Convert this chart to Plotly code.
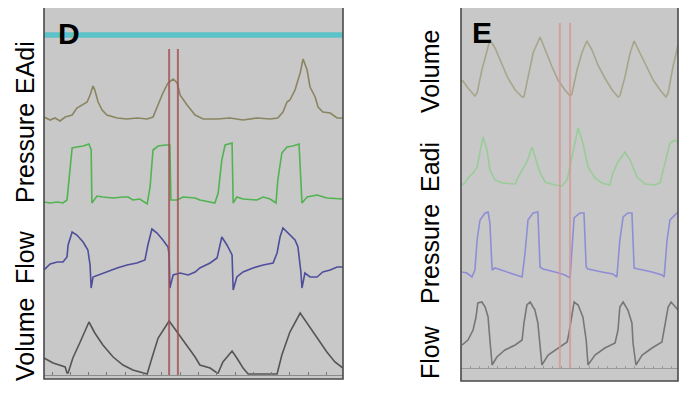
import plotly.graph_objects as go

# ---------------- Panel D data (time in s) ----------------
d_eadi_t = [-0.22, -0.05, 0.08, 0.22, 0.36, 0.55, 0.68, 0.82, 0.96, 1.04, 1.12, 1.17, 1.26, 1.37, 1.50, 1.78, 2.05, 2.32, 2.60, 2.76, 2.90, 3.03, 3.17, 3.31, 3.42, 3.50, 3.69, 3.91, 4.13, 4.51, 4.86, 5.22, 5.60, 5.96, 6.17, 6.31, 6.42, 6.50, 6.64, 6.78, 6.86, 6.97, 7.05, 7.19, 7.27, 7.40, 7.60, 7.79, 7.95]
d_eadi_v = [1.6, 1.0, 1.4, 0.8, 1.6, 2.0, 3.4, 4.0, 4.6, 6.0, 7.8, 7.0, 4.6, 3.0, 2.0, 1.4, 1.2, 1.4, 1.2, 1.6, 4.0, 6.4, 8.4, 9.2, 8.4, 6.0, 4.0, 2.0, 1.2, 1.2, 1.4, 1.0, 1.4, 1.2, 1.4, 2.6, 4.6, 5.0, 7.0, 10.4, 13.2, 11.0, 7.6, 5.6, 3.6, 2.6, 2.4, 1.4, 1.4]

d_paw_t = [-0.22, -0.05, 0.14, 0.30, 0.41, 0.49, 0.55, 0.68, 0.85, 1.01, 1.07, 1.09, 1.23, 1.39, 1.67, 1.94, 2.08, 2.21, 2.40, 2.60, 2.68, 2.76, 2.90, 3.09, 3.22, 3.25, 3.42, 3.58, 3.91, 4.04, 4.32, 4.45, 4.54, 4.64, 4.73, 4.92, 4.95, 5.05, 5.22, 5.60, 5.77, 5.96, 6.12, 6.17, 6.28, 6.42, 6.58, 6.75, 6.83, 6.97, 7.24, 7.51, 7.95]
d_paw_v = [2.0, 1.75, 2.0, 1.75, 2.5, 9.25, 15.5, 15.75, 16.0, 16.5, 15.0, 1.75, 3.5, 3.25, 3.0, 3.25, 3.25, 2.5, 2.75, 1.5, 5.75, 15.0, 16.0, 16.25, 16.25, 2.5, 2.5, 3.25, 3.0, 2.5, 2.0, 1.75, 4.25, 12.5, 16.25, 16.75, 1.75, 3.25, 2.75, 2.5, 3.25, 2.75, 1.75, 7.5, 14.25, 15.75, 16.0, 16.5, 1.75, 3.25, 3.75, 3.0, 2.75]

d_flow_t = [-0.22, -0.05, 0.14, 0.30, 0.41, 0.44, 0.55, 0.68, 0.85, 0.98, 1.04, 1.07, 1.12, 1.26, 1.50, 1.78, 2.05, 2.32, 2.54, 2.62, 2.73, 2.87, 3.03, 3.17, 3.20, 3.22, 3.31, 3.50, 3.72, 3.91, 4.04, 4.32, 4.51, 4.59, 4.64, 4.78, 4.92, 4.95, 5.05, 5.22, 5.49, 5.77, 6.04, 6.15, 6.23, 6.31, 6.45, 6.64, 6.72, 6.80, 6.83, 6.91, 7.05, 7.24, 7.40, 7.60, 7.79, 7.95]
d_flow_v = [0.10, 0.22, 0.26, 0.26, 0.36, 0.60, 0.86, 0.80, 0.66, 0.50, 0.20, -0.26, -0.04, 0.0, 0.06, 0.14, 0.20, 0.24, 0.30, 0.60, 0.92, 0.84, 0.70, 0.56, 0.40, -0.26, 0.0, 0.04, 0.0, 0.06, 0.14, 0.24, 0.34, 0.60, 0.76, 0.60, 0.40, -0.30, -0.04, 0.06, 0.14, 0.20, 0.24, 0.44, 0.76, 0.94, 0.84, 0.70, 0.56, 0.06, -0.26, 0.04, -0.04, -0.04, 0.06, 0.10, 0.16, 0.16]

d_vol_t = [-0.22, 0.03, 0.36, 0.41, 0.44, 0.57, 0.77, 1.01, 1.17, 1.39, 1.67, 1.94, 2.21, 2.49, 2.60, 2.73, 2.90, 3.20, 3.42, 3.69, 3.91, 4.04, 4.32, 4.51, 4.54, 4.67, 4.92, 5.05, 5.22, 5.36, 6.15, 6.28, 6.50, 6.78, 6.97, 7.24, 7.51, 7.73, 7.95]
d_vol_v = [85, 60, 40, 10, 10, 85, 165, 265, 210, 150, 90, 50, 25, 10, 5, 85, 185, 270, 215, 150, 90, 50, 35, 10, 10, 65, 120, 85, 35, 5, 5, 100, 215, 310, 260, 185, 115, 65, 35]

d_cursor_t = [3.20, 3.44]
d_ref_level = 0.5

# ---------------- Panel E data ----------------
e_vol_t = [0.03, 0.19, 0.38, 0.44, 0.57, 0.71, 0.79, 0.93, 1.12, 1.28, 1.48, 1.67, 1.72, 1.83, 1.97, 2.16, 2.30, 2.49, 2.65, 2.84, 2.98, 3.03, 3.17, 3.31, 3.44, 3.58, 3.74, 3.93, 4.13, 4.29, 4.34, 4.48, 4.62, 4.73, 4.89, 5.08, 5.25, 5.44, 5.60, 5.66, 5.79, 5.93]
e_vol_v = [100, 60, 20, 35, 150, 250, 300, 260, 175, 110, 50, 15, 15, 115, 235, 315, 250, 165, 100, 50, 20, 30, 150, 240, 295, 250, 175, 110, 50, 15, 20, 115, 235, 295, 235, 160, 100, 50, 15, 35, 165, 275]

e_eadi_t = [0.03, 0.11, 0.19, 0.33, 0.44, 0.52, 0.60, 0.71, 0.79, 0.93, 1.12, 1.48, 1.56, 1.67, 1.80, 1.94, 2.02, 2.16, 2.30, 2.57, 2.76, 2.90, 3.03, 3.20, 3.33, 3.47, 3.66, 3.85, 4.07, 4.15, 4.29, 4.48, 4.62, 4.81, 5.03, 5.30, 5.44, 5.57, 5.71, 5.85, 5.93]
e_eadi_v = [1.0, 1.4, 2.4, 3.4, 4.6, 7.4, 10.6, 8.0, 4.0, 2.0, 1.4, 1.2, 2.6, 4.0, 5.6, 8.6, 6.6, 3.4, 1.6, 1.0, 0.8, 2.0, 6.6, 12.4, 9.4, 4.6, 2.4, 1.4, 1.0, 3.4, 5.6, 7.6, 6.0, 2.6, 1.2, 1.0, 1.4, 5.4, 9.4, 10.0, 9.4]

e_paw_t = [0.03, 0.16, 0.30, 0.38, 0.44, 0.52, 0.66, 0.74, 0.79, 0.85, 0.93, 1.20, 1.56, 1.67, 1.75, 1.83, 1.97, 2.10, 2.16, 2.24, 2.57, 2.84, 2.98, 3.03, 3.09, 3.25, 3.36, 3.42, 3.47, 3.85, 4.15, 4.26, 4.34, 4.43, 4.56, 4.67, 4.73, 4.84, 5.22, 5.49, 5.55, 5.63, 5.71, 5.90, 5.93]
e_paw_v = [2.0, 1.75, 0.75, 2.5, 10.0, 15.0, 16.75, 17.0, 14.25, 2.5, 3.0, 2.25, 1.25, 0.75, 6.75, 15.0, 16.75, 17.0, 3.25, 2.75, 2.0, 1.25, 0.5, 7.5, 15.5, 16.75, 16.75, 3.25, 2.75, 2.0, 1.5, 0.75, 10.0, 15.75, 16.75, 16.75, 3.0, 2.75, 2.0, 1.25, 0.75, 10.0, 15.0, 16.75, 16.75]

e_flow_t = [0.03, 0.19, 0.33, 0.41, 0.46, 0.57, 0.66, 0.74, 0.79, 0.85, 0.98, 1.20, 1.48, 1.67, 1.72, 1.80, 1.89, 2.02, 2.10, 2.16, 2.21, 2.38, 2.65, 2.90, 2.95, 3.03, 3.09, 3.20, 3.33, 3.42, 3.47, 3.66, 3.93, 4.21, 4.29, 4.34, 4.43, 4.56, 4.67, 4.70, 4.78, 4.95, 5.22, 5.49, 5.55, 5.66, 5.74, 5.87, 5.93]
e_flow_v = [0.23, 0.28, 0.38, 0.51, 0.65, 0.66, 0.61, 0.51, 0.28, 0.03, 0.11, 0.18, 0.23, 0.28, 0.45, 0.63, 0.66, 0.58, 0.45, 0.25, 0.03, 0.13, 0.20, 0.26, 0.35, 0.55, 0.66, 0.63, 0.51, 0.28, 0.03, 0.13, 0.20, 0.25, 0.38, 0.61, 0.66, 0.58, 0.45, 0.25, 0.03, 0.13, 0.20, 0.26, 0.38, 0.61, 0.66, 0.61, 0.58]

e_cursor_t = [2.70, 2.98]

d_labels = ["EAdi", "Pressure", "Flow", "Volume"]
e_labels = ["Volume", "Eadi", "Pressure", "Flow"]
panel_letters = ["D", "E"]

# ---------------- figure ----------------
# page has an 8px body margin, so the figure is drawn 8px smaller and offset
OFF = 8
W, H = 692 - OFF, 398 - OFF
def px(x):
    return (x - OFF) / W
def py(y):
    return 1 - (y - OFF) / H

fig = go.Figure()

def add(t, v, xa, ya, color, width=1.6):
    fig.add_trace(go.Scatter(x=t, y=v, xaxis=xa, yaxis=ya, mode="lines",
                             line=dict(color=color, width=width), hoverinfo="skip",
                             showlegend=False))

# Panel D
add([-0.22, 7.95], [d_ref_level, d_ref_level], "x", "y5", "#5cc2c9", 5.5)
add(d_eadi_t, d_eadi_v, "x", "y", "#8a8560")
add(d_paw_t, d_paw_v, "x", "y2", "#52b352")
add(d_flow_t, d_flow_v, "x", "y3", "#4e4e9c")
add(d_vol_t, d_vol_v, "x", "y4", "#555555")
# Panel E
add(e_vol_t, e_vol_v, "x2", "y6", "#a7a58c")
add(e_eadi_t, e_eadi_v, "x2", "y7", "#9acc98")
add(e_paw_t, e_paw_v, "x2", "y8", "#8e8ed6")
add(e_flow_t, e_flow_v, "x2", "y9", "#777777")

def yax(top, bottom, rng):
    return dict(domain=[py(bottom), py(top)], range=rng, visible=False, fixedrange=True)

layout = dict(
    width=W, height=H, margin=dict(l=0, r=0, t=0, b=0),
    paper_bgcolor="white", plot_bgcolor="rgba(0,0,0,0)",
    showlegend=False,
    xaxis=dict(domain=[px(44), px(343)], range=[-0.2186, 7.9508], anchor="y4",
               showline=True, linecolor="#8a8a8a", linewidth=1.2,
               ticks="inside", ticklen=3, tickcolor="#777", tick0=0, dtick=0.5,
               showticklabels=False, showgrid=False, zeroline=False),
    xaxis2=dict(domain=[px(461), px(678)], range=[0, 5.929], anchor="y9",
                showline=True, linecolor="#9a9a9a", linewidth=1.2,
                ticks="inside", ticklen=2, tickcolor="#999", tick0=0, dtick=0.25,
                showticklabels=False, showgrid=False, zeroline=False),
    yaxis=yax(45, 125, [0, 16]),
    yaxis2=yax(135, 210, [0, 18.75]),
    yaxis3=yax(215, 300, [-0.5, 1.2]),
    yaxis4=yax(305, 375, [0, 350]),
    yaxis5=yax(25, 45, [0, 1]),
    yaxis6=yax(30, 100, [0, 350]),
    yaxis7=yax(120, 190, [0, 14]),
    yaxis8=yax(205, 280, [0, 18.75]),
    yaxis9=yax(295, 368, [0, 0.73]),
)
layout["yaxis4"]["anchor"] = "x"
layout["yaxis9"]["anchor"] = "x2"
fig.update_layout(**layout)

shapes = []
# panel backgrounds and frames
for (x0, x1, y0, y1) in [(44, 343, 7, 379), (461, 678, 7, 381)]:
    shapes.append(dict(type="rect", xref="paper", yref="paper", x0=px(x0), x1=px(x1),
                       y0=py(y1), y1=py(y0), fillcolor="#c8c8c8",
                       line=dict(width=0), layer="below"))
    shapes.append(dict(type="rect", xref="paper", yref="paper", x0=px(x0), x1=px(x1),
                       y0=py(y1), y1=py(y0), fillcolor="rgba(0,0,0,0)",
                       line=dict(color="#4a4a4a", width=1.6), layer="above"))
# cursors
for t in d_cursor_t:
    shapes.append(dict(type="line", xref="x", yref="paper", x0=t, x1=t,
                       y0=py(375), y1=py(49), line=dict(color="rgba(160,80,80,0.8)", width=2)))
for t in e_cursor_t:
    shapes.append(dict(type="line", xref="x2", yref="paper", x0=t, x1=t,
                       y0=py(368), y1=py(23), line=dict(color="rgba(215,150,150,0.8)", width=2)))
fig.update_layout(shapes=shapes)

ann = []
font = dict(family="Liberation Sans, Arial, sans-serif", size=25, color="black")
for lab, yc in zip(d_labels, [68, 153, 257, 340]):
    ann.append(dict(text=lab, xref="paper", yref="paper", x=px(25), y=py(yc),
                    textangle=-90, showarrow=False, font=font,
                    xanchor="center", yanchor="middle"))
for lab, yc in zip(e_labels, [72, 167, 254, 352]):
    ann.append(dict(text=lab, xref="paper", yref="paper", x=px(430), y=py(yc),
                    textangle=-90, showarrow=False, font=font,
                    xanchor="center", yanchor="middle"))
bold = dict(family="Liberation Sans, Arial, sans-serif", size=30, color="black")
for lab, (xc, yc) in zip(panel_letters, [(69, 34), (482, 32)]):
    ann.append(dict(text="<b>%s</b>" % lab, xref="paper", yref="paper", x=px(xc), y=py(yc),
                    showarrow=False, font=bold, xanchor="center", yanchor="middle"))
fig.update_layout(annotations=ann)

fig.write_html("out.html")
